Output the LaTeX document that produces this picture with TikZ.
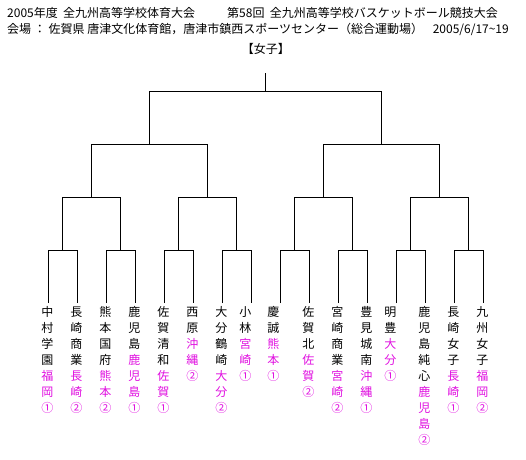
\documentclass[tikz,border=0pt]{standalone}
\usepackage{fontspec}
\setmainfont{Noto Sans CJK JP}
\usepackage{tikz}
\usetikzlibrary{positioning}
\definecolor{praef}{HTML}{E010E0}
\newcommand\tate[1]{\parbox[t]{2em}{\centering #1}}

\begin{document}
\begin{tikzpicture}[
        x=1pt, y=-1pt,
        every node/.style={font=\fontsize{12}{16}\selectfont, inner sep=0pt},
        linie/.style={line width=1pt, black},
        team/.style={anchor=north},
      ]
      \useasboundingbox (0,0) rectangle (526,459);

      % Kopfzeilen
      \node[anchor=base west] (kopfa) at (7,17) {2005年度\ \ 全九州高等学校体育大会};
      \node[anchor=base west] (kopfb) at (227,17) {第58回\ \ 全九州高等学校バスケットボール競技大会};
      \node[anchor=base west] (ort) at (7,33) {会場\ ：\ 佐賀県\ 唐津文化体育館，唐津市鎮西スポーツセンター（総合運動場）};
      \node[anchor=base east] (datum) at (509,33) {2005/6/17\textasciitilde19};
      \node[anchor=base] (titel) at (265.8,53) {【女子】};

      % Startplaetze
      \foreach \i in {1,...,16} {
        \coordinate (l\i) at ({48.3+29*(\i-1)}, 303);
      }
      % Runden (Koordinaten)
      \foreach \k in {1,...,8} { \coordinate (a\k) at ({62.8+58*(\k-1)}, 250.3); }
      \foreach \k in {1,...,4} { \coordinate (b\k) at ({91.8+116*(\k-1)}, 197.3); }
      \foreach \k in {1,2}     { \coordinate (c\k) at ({149.8+232*(\k-1)}, 144.3); }
      \coordinate (d) at (265.8, 91.7);
      \coordinate (spitze) at (265.8, 73);

      % Klammern
      \foreach \k [evaluate=\k as \p using int(2*\k-1),
                   evaluate=\k as \q using int(2*\k)] in {1,...,8} {
        \draw[linie] (l\p) |- (a\k) -| (l\q);
      }
      \foreach \k [evaluate=\k as \p using int(2*\k-1),
                   evaluate=\k as \q using int(2*\k)] in {1,...,4} {
        \draw[linie] (a\p) |- (b\k) -| (a\q);
      }
      \foreach \k [evaluate=\k as \p using int(2*\k-1),
                   evaluate=\k as \q using int(2*\k)] in {1,2} {
        \draw[linie] (b\p) |- (c\k) -| (b\q);
      }
      \draw[linie] (c1) |- (d) -| (c2);
      \draw[linie] (d) -- (spitze);

      % Mannschaften (Schule schwarz, Praefektur + Platz farbig)
      \foreach \i/\dx/\txt in {
          1/-1/{中\\村\\学\\園\\\color{praef}福\\岡\\①},
          2/-1/{長\\崎\\商\\業\\\color{praef}長\\崎\\②},
          3/-1/{熊\\本\\国\\府\\\color{praef}熊\\本\\②},
          4/-1/{鹿\\児\\島\\\color{praef}鹿\\児\\島\\①},
          5/-1/{佐\\賀\\清\\和\\\color{praef}佐\\賀\\①},
          6/-1/{西\\原\\\color{praef}沖\\縄\\②},
          7/-1/{大\\分\\鶴\\崎\\\color{praef}大\\分\\②},
          8/-6/{小\\林\\\color{praef}宮\\崎\\①},
          9/-7/{慶\\誠\\\color{praef}熊\\本\\①},
          10/-1/{佐\\賀\\北\\\color{praef}佐\\賀\\②},
          11/-1/{宮\\崎\\商\\業\\\color{praef}宮\\崎\\②},
          12/-1/{豊\\見\\城\\南\\\color{praef}沖\\縄\\①},
          13/-6/{明\\豊\\\color{praef}大\\分\\①},
          14/-1/{鹿\\児\\島\\純\\心\\\color{praef}鹿\\児\\島\\②},
          15/-1/{長\\崎\\女\\子\\\color{praef}長\\崎\\①},
          16/-1/{九\\州\\女\\子\\\color{praef}福\\岡\\②}} {
        \node[team] (t\i) at ({48.3+29*(\i-1)+\dx}, 306.5) {\tate{\txt}};
      }
    \end{tikzpicture}
\end{document}
